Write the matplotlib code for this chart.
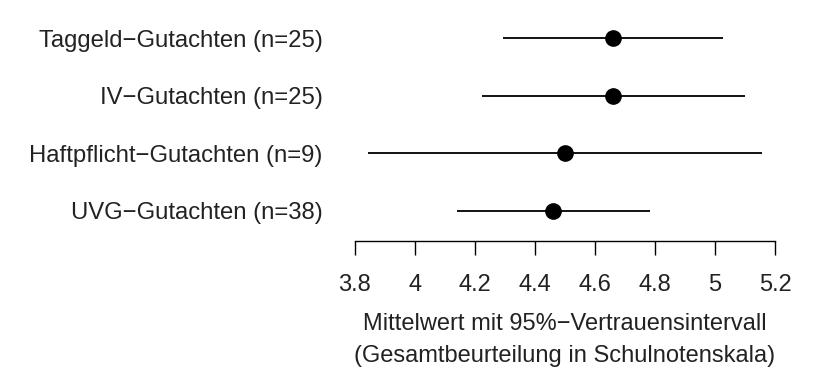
import matplotlib
matplotlib.use('Agg')
import matplotlib.pyplot as plt

plt.rcParams['font.family'] = ['Liberation Sans', 'DejaVu Sans']

# Gutachten-Typen, von oben nach unten
labels = ['Taggeld\u2212Gutachten (n=25)', 'IV\u2212Gutachten (n=25)',
          'Haftpflicht\u2212Gutachten (n=9)', 'UVG\u2212Gutachten (n=38)']
mean = [4.66, 4.66, 4.50, 4.46]
ci_low = [4.295, 4.223, 3.845, 4.142]
ci_high = [5.028, 5.100, 5.158, 4.784]
xticks = [3.8, 4.0, 4.2, 4.4, 4.6, 4.8, 5.0, 5.2]
xticklabels = ['3.8', '4', '4.2', '4.4', '4.6', '4.8', '5', '5.2']

fig = plt.figure(figsize=(8.18, 3.71), dpi=100)
ax = fig.add_axes([354.7 / 818, 1 - 241 / 371, (775 - 354.7) / 818, (241 - 3.7) / 371])

ypos = list(range(len(labels), 0, -1))
ax.hlines(ypos, ci_low, ci_high, color='black', linewidth=1.3)
ax.plot(mean, ypos, 'o', color='black', markersize=11)

ax.set_xlim(3.8, 5.2)
ax.set_ylim(0.479, 4.6)
ax.set_xticks(xticks)
ax.set_xticklabels(xticklabels, fontsize=17, color='#222222')
ax.set_yticks(ypos)
ax.set_yticklabels(labels, fontsize=17.2, color='#222222')
ax.tick_params(axis='y', length=0, pad=23)
ax.tick_params(axis='x', length=10, width=1, pad=14)

for s in ['top', 'right', 'left']:
    ax.spines[s].set_visible(False)
ax.spines['bottom'].set_linewidth(1)

ax.set_xlabel('Mittelwert mit 95%\u2212Vertrauensintervall\n(Gesamtbeurteilung in Schulnotenskala)',
              fontsize=17, labelpad=12, linespacing=1.6, color='#222222')

fig.savefig('out.png', dpi=100, facecolor='white')
